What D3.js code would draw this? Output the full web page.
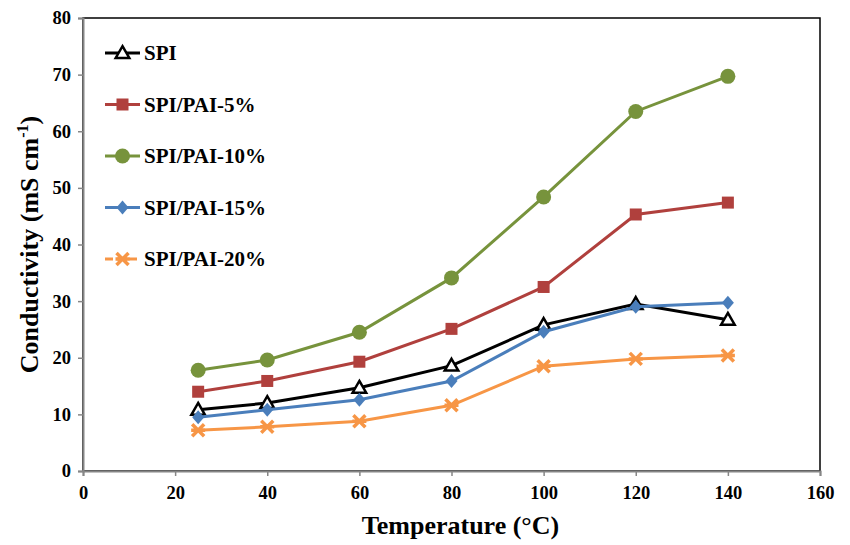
<!DOCTYPE html>
<html>
<head>
<meta charset="utf-8">
<script src="https://cdn.jsdelivr.net/npm/d3@7"></script>
<style>
  body { margin: 0; background: #fff; }
  text { font-family: "Liberation Serif", "Times New Roman", serif; font-weight: bold; }
</style>
</head>
<body>
<script>
// data
var temps = [25, 40, 60, 80, 100, 120, 140];
var spi   = [10.8, 12.0, 14.7, 18.6, 25.8, 29.5, 26.7];
var pai5  = [14.0, 15.9, 19.3, 25.1, 32.5, 45.3, 47.4];
var pai10 = [17.8, 19.6, 24.5, 34.1, 48.4, 63.5, 69.7];
var pai15 = [9.5, 10.8, 12.6, 15.9, 24.6, 29.0, 29.7];
var pai20 = [7.2, 7.8, 8.8, 11.6, 18.5, 19.8, 20.4];
var xTicks = [0, 20, 40, 60, 80, 100, 120, 140, 160];
var yTicks = [0, 10, 20, 30, 40, 50, 60, 70, 80];

var series = [
  { name: "SPI", values: spi, color: "#000000", marker: "triangle" },
  { name: "SPI/PAI-5%", values: pai5, color: "#B0403D", marker: "square" },
  { name: "SPI/PAI-10%", values: pai10, color: "#77933C", marker: "circle" },
  { name: "SPI/PAI-15%", values: pai15, color: "#4A7EBB", marker: "diamond" },
  { name: "SPI/PAI-20%", values: pai20, color: "#F79646", marker: "cross", dashed: true }
];

var w = 850, h = 545;
var svg = d3.select("body").append("svg").attr("width", w).attr("height", h);

var x = d3.scaleLinear().domain([0, 160]).range([83, 820]);
var y = d3.scaleLinear().domain([0, 80]).range([471, 18]);

// plot border (top/right)
svg.append("rect")
   .attr("x", x(0)).attr("y", y(80))
   .attr("width", x(160) - x(0)).attr("height", y(0) - y(80))
   .attr("fill", "none").attr("stroke", "#000").attr("stroke-width", 1.5);

var xAxis = svg.append("g")
   .attr("transform", "translate(0," + y(0) + ")")
   .call(d3.axisBottom(x).tickValues(xTicks).tickSize(5).tickPadding(10).tickFormat(d3.format("d")));
var yAxis = svg.append("g")
   .attr("transform", "translate(" + x(0) + ",0)")
   .call(d3.axisLeft(y).tickValues(yTicks).tickSize(5).tickPadding(7).tickFormat(d3.format("d")));

[xAxis, yAxis].forEach(function(a) {
  a.select(".domain").attr("stroke", "#868686").attr("stroke-width", 2);
  a.selectAll(".tick line").attr("stroke", "#868686").attr("stroke-width", 1.5);
  a.selectAll(".tick text").attr("fill", "#000").style("font-size", "18.5px")
   .style("font-family", "Liberation Serif").style("font-weight", "bold");
});

// axis titles
svg.append("text")
   .attr("x", (x(0) + x(160)) / 2 + 9).attr("y", 534)
   .attr("text-anchor", "middle").style("font-size", "26px")
   .text("Temperature (°C)");

var yt = svg.append("text")
   .attr("transform", "translate(38," + ((y(0) + y(80)) / 2) + ") rotate(-90)")
   .attr("text-anchor", "middle").style("font-size", "26px");
yt.append("tspan").text("Conductivity (mS cm");
yt.append("tspan").attr("dy", -10).style("font-size", "16px").text("-1");
yt.append("tspan").attr("dy", 10).text(")");

function drawMarker(g, s, cx, cy) {
  if (s.marker === "triangle") {
    g.append("path").attr("d", d3.symbol(d3.symbolTriangle, 80)())
     .attr("transform", "translate(" + cx + "," + (cy + 1) + ")")
     .attr("fill", "#fff").attr("stroke", s.color).attr("stroke-width", 2.5);
  } else if (s.marker === "square") {
    g.append("rect").attr("x", cx - 6).attr("y", cy - 6).attr("width", 12).attr("height", 12)
     .attr("fill", s.color);
  } else if (s.marker === "circle") {
    g.append("circle").attr("cx", cx).attr("cy", cy).attr("r", 7.5).attr("fill", s.color);
  } else if (s.marker === "diamond") {
    g.append("path").attr("d", "M0,-7L6,0L0,7L-6,0Z")
     .attr("transform", "translate(" + cx + "," + cy + ")").attr("fill", s.color);
  } else if (s.marker === "cross") {
    g.append("path").attr("d", "M-6,-6L6,6M-6,6L6,-6M-7,0L7,0")
     .attr("transform", "translate(" + cx + "," + cy + ")")
     .attr("stroke", s.color).attr("stroke-width", 3.5).attr("fill", "none");
  }
}

var line = d3.line().x(function(d, i) { return x(temps[i]); }).y(function(d) { return y(d); });

series.forEach(function(s) {
  var g = svg.append("g");
  g.append("path").datum(s.values)
   .attr("d", line).attr("fill", "none")
   .attr("stroke", s.color).attr("stroke-width", 3);
  s.values.forEach(function(v, i) { drawMarker(g, s, x(temps[i]), y(v)); });
});

// legend
var legend = svg.append("g");
series.forEach(function(s, i) {
  var ly = 53 + i * 51.5;
  var g = legend.append("g");
  g.append("line").attr("x1", 105).attr("x2", 140).attr("y1", ly).attr("y2", ly)
   .attr("stroke", s.color).attr("stroke-width", 3)
   .attr("stroke-dasharray", s.dashed ? "8,4" : null);
  drawMarker(g, s, 122.5, ly);
  g.append("text").attr("x", 144).attr("y", ly + 7).style("font-size", "21px").text(s.name);
});
</script>
</body>
</html>
